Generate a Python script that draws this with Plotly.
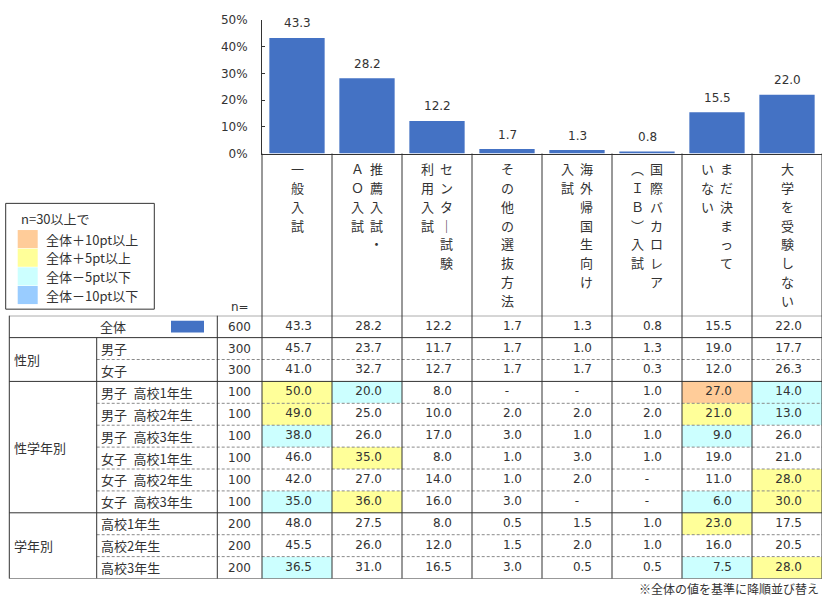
import plotly.graph_objects as go

W, H = 828, 607

# ---------------- data ----------------
# header text of each category, split into the two vertical columns it is written in
category_lines = [
    ["一般入試"],
    ["推薦入試・", "ＡＯ入試"],
    ["センター試験", "利用入試"],
    ["その他の選抜方法"],
    ["海外帰国生向け", "入試"],
    ["国際バカロレア", "（ＩＢ）入試"],
    ["まだ決まって", "いない"],
    ["大学を受験しない"],
]
categories = ["".join(c) for c in category_lines]

row_labels = ["全体", "男子", "女子",
              "男子\u2002高校1年生", "男子\u2002高校2年生", "男子\u2002高校3年生",
              "女子\u2002高校1年生", "女子\u2002高校2年生", "女子\u2002高校3年生",
              "高校1年生", "高校2年生", "高校3年生"]
row_n = [600, 300, 300, 100, 100, 100, 100, 100, 100, 200, 200, 200]

total_values = [43.3, 28.2, 12.2, 1.7, 1.3, 0.8, 15.5, 22.0]
male = [45.7, 23.7, 11.7, 1.7, 1.0, 1.3, 19.0, 17.7]
female = [41.0, 32.7, 12.7, 1.7, 1.7, 0.3, 12.0, 26.3]
male_g1 = [50.0, 20.0, 8.0, None, None, 1.0, 27.0, 14.0]
male_g2 = [49.0, 25.0, 10.0, 2.0, 2.0, 2.0, 21.0, 13.0]
male_g3 = [38.0, 26.0, 17.0, 3.0, 1.0, 1.0, 9.0, 26.0]
female_g1 = [46.0, 35.0, 8.0, 1.0, 3.0, 1.0, 19.0, 21.0]
female_g2 = [42.0, 27.0, 14.0, 1.0, 2.0, None, 11.0, 28.0]
female_g3 = [35.0, 36.0, 16.0, 3.0, None, None, 6.0, 30.0]
grade1 = [48.0, 27.5, 8.0, 0.5, 1.5, 1.0, 23.0, 17.5]
grade2 = [45.5, 26.0, 12.0, 1.5, 2.0, 1.0, 16.0, 20.5]
grade3 = [36.5, 31.0, 16.5, 3.0, 0.5, 0.5, 7.5, 28.0]

group_labels = ["性別", "性学年別", "学年別"]
group_first_row = [1, 3, 9]
group_last_row = [2, 8, 11]

legend_title = "n=30以上で"
legend_labels = ["全体＋10pt以上", "全体＋5pt以上", "全体－5pt以下", "全体－10pt以下"]
legend_colors = ["#FFCC99", "#FFFF99", "#CCFFFF", "#99CCFF"]
footnote = "※全体の値を基準に降順並び替え"

rows = [total_values, male, female, male_g1, male_g2, male_g3,
        female_g1, female_g2, female_g3, grade1, grade2, grade3]

# ---------------- helpers ----------------
def px(x):
    return x / W

def py(y):
    return 1 - y / H

NUM_FONT = "DejaVu Sans"
JP_FONT = "Noto Sans CJK JP, Noto Sans CJK SC, sans-serif"
TXT = "#333333"
LINE = "#333333"

# table geometry (pixels)
T_LEFT, G_RIGHT, L_RIGHT, N_RIGHT, T_RIGHT = 9.3, 96.7, 217.3, 262.0, 822.0
T_TOP, T_BOTTOM = 316.0, 585.0
AX_BOTTOM, AX_TOP = 150.0, 13.3
NROWS = len(rows)
COLW = (T_RIGHT - N_RIGHT) / len(categories)


def color_class(v, base, n):
    if v is None or n < 30:
        return 0
    d = round(v - base, 1)
    if d >= 10:
        return 1
    if d >= 5:
        return 2
    if d <= -10:
        return 4
    if d <= -5:
        return 3
    return 0


z = [[color_class(v, total_values[i], row_n[r]) for i, v in enumerate(row)]
     for r, row in enumerate(rows)]

fig = go.Figure()

fig.add_trace(go.Bar(
    x=list(range(len(categories))), y=total_values, width=0.79,
    marker=dict(color="#4472C4", line=dict(width=0)),
    hoverinfo="skip", name="全体"))

fig.add_trace(go.Heatmap(
    x=list(range(len(categories))), y=list(range(NROWS)), z=z,
    xaxis="x", yaxis="y2", zmin=0, zmax=4,
    colorscale=[[0, "#FFFFFF"], [0.25, legend_colors[0]], [0.5, legend_colors[1]],
                [0.75, legend_colors[2]], [1, legend_colors[3]]],
    showscale=False, hoverinfo="skip"))

# numbers in cells (right aligned, 20px padding)
pad = 20 / COLW
tx, ty, tt, dx, dy = [], [], [], [], []
for r, row in enumerate(rows):
    for i, v in enumerate(row):
        if v is None:
            dx.append(i)
            dy.append(r)
        else:
            tx.append(i + 0.5 - pad)
            ty.append(r)
            tt.append(f"{v:.1f}")
fig.add_trace(go.Scatter(x=tx, y=ty, text=tt, mode="text", textposition="middle left",
                         textfont=dict(family=NUM_FONT, size=12, color=TXT),
                         xaxis="x", yaxis="y2", cliponaxis=False, hoverinfo="skip"))
fig.add_trace(go.Scatter(x=dx, y=dy, text=["-"] * len(dx), mode="text",
                         textposition="middle center",
                         textfont=dict(family=NUM_FONT, size=12, color=TXT),
                         xaxis="x", yaxis="y2", cliponaxis=False, hoverinfo="skip"))

annotations = []
# bar value labels
for i, v in enumerate(total_values):
    annotations.append(dict(x=i, y=v, xref="x", yref="y", text=f"{v:.1f}", showarrow=False,
                            yshift=14.5, font=dict(family=NUM_FONT, size=12, color=TXT)))

# vertical header texts
vert_map = {"\u30fc": "\uff5c", "\uff08": "\ufe35", "\uff09": "\ufe36"}
CH_TOP, CH_STEP = 165.3, 19.3
for i, lines in enumerate(category_lines):
    offs = [0.0] if len(lines) == 1 else [9.7 / COLW, -9.7 / COLW]
    for line, off in zip(lines, offs):
        for k, ch in enumerate(line):
            annotations.append(dict(x=i + off, y=py(CH_TOP + CH_STEP * k), xref="x", yref="paper",
                                    text=vert_map.get(ch, ch), showarrow=False,
                                    xanchor="center", yanchor="middle",
                                    font=dict(family=JP_FONT, size=13, color=TXT)))

# row labels and n
for r, lab in enumerate(row_labels):
    if r == 0:
        annotations.append(dict(x=px((T_LEFT + L_RIGHT) / 2), y=r, xref="paper", yref="y2",
                                text=lab, showarrow=False, xanchor="center",
                                font=dict(family=JP_FONT, size=13, color=TXT)))
    else:
        annotations.append(dict(x=px(G_RIGHT + 2.5), y=r, xref="paper", yref="y2",
                                text=lab, showarrow=False, xanchor="left",
                                font=dict(family=JP_FONT, size=13, color=TXT)))
    annotations.append(dict(x=px((L_RIGHT + N_RIGHT) / 2), y=r, xref="paper", yref="y2",
                            text=str(row_n[r]), showarrow=False, xanchor="center",
                            font=dict(family=NUM_FONT, size=12, color=TXT)))

for g, a, b in zip(group_labels, group_first_row, group_last_row):
    annotations.append(dict(x=px(T_LEFT + 3), y=(a + b) / 2, xref="paper", yref="y2",
                            text=g, showarrow=False, xanchor="left",
                            font=dict(family=JP_FONT, size=13, color=TXT)))

annotations.append(dict(x=px((L_RIGHT + N_RIGHT) / 2), y=py(307.5), xref="paper", yref="paper",
                        text="n=", showarrow=False, xanchor="center", yanchor="middle",
                        font=dict(family=NUM_FONT, size=12, color=TXT)))
annotations.append(dict(x=px(821), y=py(595), xref="paper", yref="paper", text=footnote,
                        showarrow=False, xanchor="right", yanchor="middle",
                        font=dict(family=JP_FONT, size=12, color=TXT)))

# legend
LG_L, LG_T, LG_R, LG_B = 5.7, 201.0, 154.3, 309.3
annotations.append(dict(x=px(19), y=py(216.5), xref="paper", yref="paper", text=legend_title,
                        showarrow=False, xanchor="left", yanchor="middle",
                        font=dict(family=JP_FONT, size=13, color=TXT)))
shapes = [dict(type="rect", xref="paper", yref="paper", x0=px(LG_L), x1=px(LG_R),
               y0=py(LG_B), y1=py(LG_T), line=dict(color=LINE, width=1), fillcolor="white",
               layer="below")]
for k, (lab, col) in enumerate(zip(legend_labels, legend_colors)):
    top = 228.3 + 19.1 * k
    shapes.append(dict(type="rect", xref="paper", yref="paper", x0=px(17.7), x1=px(37.7),
                       y0=py(top + 18.5), y1=py(top), line=dict(width=0), fillcolor=col))
    annotations.append(dict(x=px(43.5), y=py(top + 9.3), xref="paper", yref="paper", text=lab,
                            showarrow=False, xanchor="left", yanchor="middle",
                            font=dict(family=JP_FONT, size=13, color=TXT)))

# swatch in the 全体 row
shapes.append(dict(type="rect", xref="paper", yref="y2", x0=px(171), x1=px(204),
                   y0=-0.27, y1=0.27, line=dict(width=0), fillcolor="#4472C4"))

# table lines
solid_edges = [0, 1, 3, 9, 12]
for e in range(NROWS + 1):
    if e in solid_edges:
        shapes.append(dict(type="line", xref="paper", yref="y2", x0=px(T_LEFT), x1=px(T_RIGHT),
                           y0=e - 0.5, y1=e - 0.5, line=dict(color=LINE, width=1)))
    else:
        shapes.append(dict(type="line", xref="paper", yref="y2", x0=px(G_RIGHT), x1=px(T_RIGHT),
                           y0=e - 0.5, y1=e - 0.5,
                           line=dict(color="#8a8a8a", width=1, dash="3px,2px")))
for xv, y0 in [(T_LEFT, T_TOP), (G_RIGHT, None), (L_RIGHT, T_TOP), (N_RIGHT, AX_BOTTOM)]:
    if y0 is None:
        shapes.append(dict(type="line", xref="paper", yref="y2", x0=px(xv), x1=px(xv),
                           y0=0.5, y1=NROWS - 0.5, line=dict(color=LINE, width=1)))
    else:
        shapes.append(dict(type="line", xref="paper", yref="paper", x0=px(xv), x1=px(xv),
                           y0=py(y0), y1=py(T_BOTTOM), line=dict(color=LINE, width=1)))
for k in range(1, len(categories) + 1):
    shapes.append(dict(type="line", xref="x", yref="paper", x0=k - 0.5, x1=k - 0.5,
                       y0=py(AX_BOTTOM), y1=py(T_BOTTOM), line=dict(color=LINE, width=1)))

fig.update_layout(
    width=W, height=H, margin=dict(l=0, r=0, t=0, b=0),
    paper_bgcolor="white", plot_bgcolor="white", showlegend=False,
    xaxis=dict(domain=[px(N_RIGHT), px(T_RIGHT)], range=[-0.5, len(categories) - 0.5],
               showticklabels=False, ticks="", showgrid=False, zeroline=False,
               showline=True, linecolor=LINE, linewidth=1, fixedrange=True),
    yaxis=dict(domain=[py(AX_BOTTOM), py(AX_TOP)], range=[0, 50], dtick=10, ticksuffix="%",
               showgrid=False, zeroline=False, showline=True, linecolor=LINE, linewidth=1,
               ticks="inside", ticklen=3, tickcolor=LINE, ticklabelstandoff=11,
               tickfont=dict(family=NUM_FONT, size=12, color=TXT), anchor="x", fixedrange=True),
    yaxis2=dict(domain=[py(T_BOTTOM), py(T_TOP)], range=[NROWS - 0.5, -0.5], visible=False,
                anchor="x", fixedrange=True),
    annotations=annotations, shapes=shapes,
)

fig.write_html("out.html", config={"displayModeBar": False},
               post_script="document.body.style.margin='0';document.body.style.overflow='hidden';")
